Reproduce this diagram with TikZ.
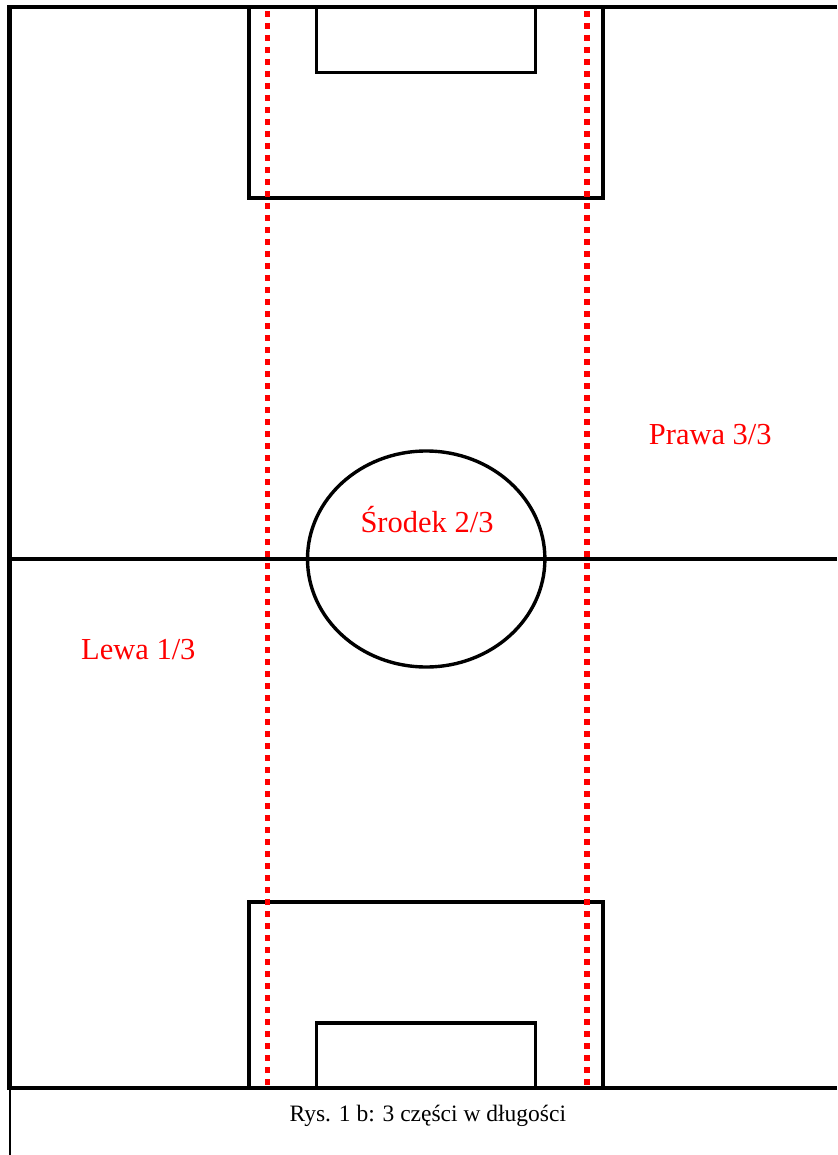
\documentclass[tikz,border=0pt]{standalone}
\usepackage{fontspec}
\setmainfont{Liberation Serif}
\begin{document}
\begin{tikzpicture}[x=1pt,y=-1pt,
  fieldline/.style={line width=4.2pt, black},
  goalline/.style={line width=3.4pt, black},
  thirdline/.style={red, line width=5.6pt, dash pattern=on 5.6pt off 6.4pt},
  zonelabel/.style={red, inner sep=0pt, anchor=base, font=\fontsize{30.5}{36}\selectfont},
  captionlabel/.style={black, inner sep=0pt, anchor=base, font=\fontsize{23.5}{28}\selectfont}]
\useasboundingbox[fill=white] (0,0) rectangle (837,1155);
% outer field
\draw[fieldline] (837,7) -- (9.5,7) -- (9.5,1088) -- (837,1088);
\draw[fieldline] (9.5,559) -- (837,559);
\draw[line width=2pt] (10,1088) -- (10,1155);
% penalty boxes
\draw[fieldline] (249.3,7) -- (249.3,198.4) -- (602.7,198.4) -- (602.7,7);
\draw[fieldline] (249.3,1088) -- (249.3,902) -- (602.7,902) -- (602.7,1088);
% goal boxes
\draw[goalline] (316.5,7) -- (316.5,72.4) -- (535.3,72.4) -- (535.3,7);
\draw[goalline] (316.5,1088) -- (316.5,1023) -- (535.3,1023) -- (535.3,1088);
% centre circle
\draw[goalline] (426.2,559) ellipse [x radius=118.7, y radius=108];
% thirds
\coordinate (l1) at (267.5,11);
\coordinate (l2) at (267.5,1086);
\coordinate (r1) at (587,11);
\coordinate (r2) at (587,1086);
\draw[thirdline] (l1) -- (l2);
\draw[thirdline] (r1) -- (r2);
% labels
\node[zonelabel] (prawa) at (710.3,444.3) {Prawa 3/3};
\node[zonelabel] (srodek) at (427,532.7) {Środek 2/3};
\node[zonelabel] (lewa) at (138.3,659.3) {Lewa 1/3};
\node[captionlabel] (cap) at (427.8,1121) {Rys. 1 b: 3 części w długości};
\end{tikzpicture}
\end{document}
